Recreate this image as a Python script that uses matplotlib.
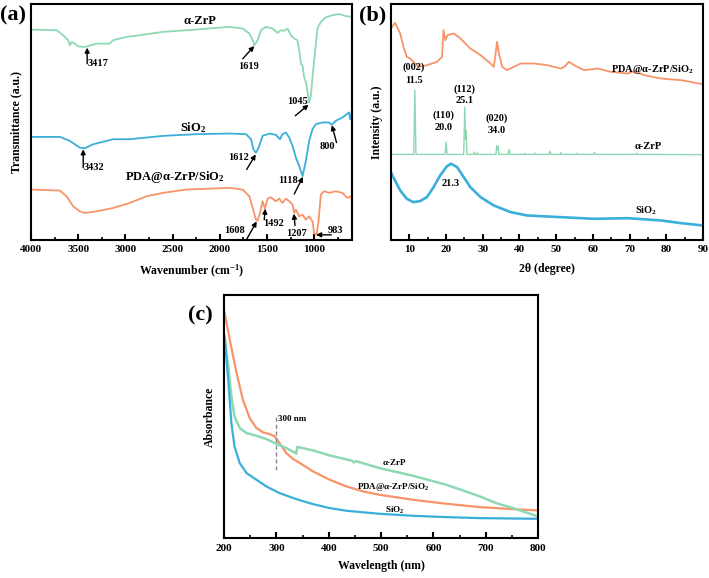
import matplotlib
matplotlib.use('Agg')
import matplotlib.pyplot as plt
from matplotlib.ticker import MultipleLocator

plt.rcParams['font.family'] = ['Liberation Serif', 'DejaVu Serif']
plt.rcParams['font.weight'] = 'bold'
plt.rcParams['mathtext.fontset'] = 'custom'
plt.rcParams['mathtext.rm'] = 'Liberation Serif:bold'
plt.rcParams['mathtext.it'] = 'Liberation Serif:italic:bold'
plt.rcParams['mathtext.bf'] = 'Liberation Serif:bold'

GREEN = '#8ed8b4'
BLUE = '#3aafd9'
ORANGE = '#f7946a'

# ---------------- (a) FTIR ----------------
ftir_zrp_x = [4000, 3729, 3659, 3606, 3588, 3570, 3535, 3500, 3430, 3306, 3166, 3131, 2990,
              2849, 2603, 2250, 1899, 1758, 1687, 1652, 1635, 1600, 1564, 1511, 1441,
              1388, 1353, 1318, 1283, 1247, 1212, 1177, 1159, 1141, 1124, 1107, 1089,
              1071, 1054, 1036, 1018, 1001, 983, 966, 930, 878, 807, 737, 666, 600]
ftir_zrp_y = [627, 625, 610, 595, 580, 590, 585, 577, 575, 585, 585, 595, 605,
              610, 620, 627, 635, 630, 615, 595, 580, 595, 625, 635, 630,
              617, 625, 623, 630, 610, 600, 595, 565, 525, 520, 485, 470,
              440, 410, 430, 485, 535, 585, 630, 650, 663, 670, 673, 667, 665]

ftir_sio2_x = [4000, 3694, 3588, 3483, 3430, 3342, 3131, 2955, 2603, 2250, 1899, 1722, 1669,
               1645, 1617, 1589, 1547, 1476, 1406, 1363, 1336, 1300, 1265, 1230, 1194,
               1159, 1124, 1089, 1054, 1018, 983, 913, 843, 814, 772, 701, 630, 620, 600]
ftir_sio2_y = [307, 307, 295, 275, 273, 285, 300, 300, 310, 315, 317, 315, 300,
               270, 260, 275, 310, 317, 313, 300, 315, 320, 305, 280, 245,
               220, 190, 235, 295, 330, 345, 350, 350, 343, 355, 365, 380, 360, 380]

ftir_pda_x = [4000, 3694, 3623, 3553, 3483, 3430, 3306, 3131, 2955, 2778, 2603, 2356, 1899,
              1758, 1687, 1652, 1617, 1600, 1575, 1547, 1522, 1494, 1459, 1406, 1371,
              1336, 1300, 1265, 1230, 1212, 1194, 1159, 1124, 1089, 1054, 1018, 1001,
              976, 955, 930, 895, 843, 772, 702, 649, 613, 600]
ftir_pda_y = [150, 147, 130, 100, 85, 80, 85, 95, 110, 130, 140, 150, 155,
              150, 130, 95, 60, 57, 80, 115, 93, 123, 127, 115, 123,
              110, 123, 115, 105, 80, 90, 70, 75, 60, 70, 55, 20,
              15, 55, 135, 145, 140, 145, 140, 125, 130, 115]

# ---------------- (b) XRD ----------------
xrd_pda_x = [5.0, 6.1, 7.5, 8.4, 9.3, 10.2, 11.1, 12.5, 14.8, 17.5, 18.9, 19.3, 19.8, 20.4,
             22.1, 23.9, 26.6, 29.4, 32.1, 33.0, 33.5, 33.9, 34.4, 35.3, 36.6, 40.3, 43.9,
             47.6, 51.2, 52.2, 53.5, 54.9, 57.6, 61.3, 64.9, 69.5, 71.3, 74.0, 78.6, 84.1, 90.0]
xrd_pda_y = [633, 650, 618, 578, 548, 543, 533, 518, 523, 533, 548, 628, 598, 613,
             618, 603, 573, 553, 528, 518, 558, 593, 558, 518, 508, 528, 528,
             523, 513, 518, 533, 523, 508, 513, 503, 498, 505, 493, 483, 478, 466]

xrd_zrp_x = [5.0, 11.2, 11.5, 11.8, 19.7, 20.0, 20.3, 24.8, 25.1, 25.3, 25.45, 25.7,
             27.5, 27.7, 27.9, 28.3, 28.5, 28.7, 33.6, 33.8, 33.95, 34.1, 34.4,
             36.9, 37.2, 37.5, 41.3, 41.5, 41.7, 44.1, 44.3, 44.5, 48.0, 48.3, 48.6,
             51.1, 51.3, 51.5, 55.4, 55.6, 55.8, 60.1, 60.4, 60.7, 71.8, 72.0, 72.2, 90.0]
xrd_zrp_y = [256, 256, 448, 256, 256, 293, 256, 256, 398, 300, 328, 256,
             256, 263, 256, 256, 260, 256, 256, 281, 270, 281, 256,
             256, 270, 256, 256, 259, 256, 256, 260, 256, 256, 265, 256,
             256, 261, 256, 256, 259, 256, 256, 261, 256, 256, 259, 256, 255]

xrd_sio2_x = [5.0, 5.6, 7.5, 9.3, 11.1, 12.9, 14.8, 16.6, 18.4, 20.2, 21.3, 23.0, 24.8,
              26.6, 29.4, 33.0, 37.6, 42.1, 51.2, 60.4, 69.5, 78.6, 84.1, 90.0]
xrd_sio2_y = [203, 188, 148, 123, 113, 116, 128, 158, 193, 220, 228, 218, 188,
              158, 128, 103, 83, 73, 68, 63, 65, 58, 50, 43]

# ---------------- (c) UV-vis ----------------
uv_pda_x = [201, 211, 224, 236, 249, 262, 275, 287, 297, 306, 319, 332, 345, 370, 402,
            434, 466, 497, 561, 625, 689, 752, 800]
uv_pda_y = [677, 595, 495, 415, 360, 330, 317, 312, 305, 285, 255, 237, 225, 200, 175,
            155, 140, 130, 115, 103, 93, 87, 83]

uv_zrp_x = [201, 208, 214, 220, 230, 243, 262, 281, 300, 319, 335, 338, 340, 345, 370,
            402, 445, 448, 452, 497, 561, 625, 689, 720, 752, 800]
uv_zrp_y = [605, 515, 425, 365, 330, 315, 307, 297, 283, 270, 257, 253, 273, 272, 263,
            248, 232, 227, 231, 210, 187, 160, 125, 105, 90, 65]

uv_sio2_x = [201, 208, 214, 220, 230, 243, 262, 281, 306, 338, 370, 402, 434, 497, 561,
             625, 689, 800]
uv_sio2_y = [605, 475, 345, 275, 225, 195, 175, 155, 135, 117, 102, 90, 82, 73, 67,
             63, 60, 58]

fig = plt.figure(figsize=(7.09, 5.78), dpi=100)
ax_a = fig.add_axes([0.0437, 0.585, 0.4528, 0.408])
ax_b = fig.add_axes([0.5515, 0.585, 0.440, 0.408])
ax_c = fig.add_axes([0.316, 0.069, 0.443, 0.421])

LW = 1.3
FS_TICK = 8
FS_LABEL = 8.5
FS_ANN = 7.5


def style(ax, major, minor):
    for sp in ax.spines.values():
        sp.set_linewidth(1.5)
    ax.set_yticks([])
    ax.xaxis.set_major_locator(MultipleLocator(major))
    ax.xaxis.set_minor_locator(MultipleLocator(minor))
    ax.tick_params(axis='x', which='major', direction='in', length=4, width=1.5,
                   labelsize=FS_TICK, pad=4)
    ax.tick_params(axis='x', which='minor', direction='in', length=2.5, width=1.2)
    for lbl in ax.get_xticklabels():
        lbl.set_fontweight('bold')


def arrow(ax, tail, head):
    ax.annotate('', xy=head, xytext=tail,
                arrowprops=dict(arrowstyle='-|>', color='black', lw=1.0,
                                mutation_scale=7, shrinkA=0, shrinkB=0))


# ----- panel (a)
ax_a.plot(ftir_zrp_x, ftir_zrp_y, color=GREEN, lw=LW)
ax_a.plot(ftir_sio2_x, ftir_sio2_y, color=BLUE, lw=LW)
ax_a.plot(ftir_pda_x, ftir_pda_y, color=ORANGE, lw=LW)
ax_a.set_xlim(4000, 600)
ax_a.set_ylim(0, 703)
style(ax_a, 500, 250)
ax_a.set_xlabel('Wavenumber (cm$^\\mathregular{-1}$)', fontsize=FS_LABEL, fontweight='bold',
                labelpad=6)
ax_a.set_ylabel('Transmittance (a.u.)', fontsize=FS_LABEL, fontweight='bold', labelpad=6)

ax_a.text(2215, 653, 'α-ZrP', fontsize=9, ha='center', va='center')
ax_a.text(2285, 335, 'SiO$_\\mathregular{2}$', fontsize=9, ha='center', va='center')
ax_a.text(2479, 188, 'PDA@α-ZrP/SiO$_\\mathregular{2}$', fontsize=9, ha='center', va='center')

ax_a.text(3395, 525, '3417', fontsize=FS_ANN, ha='left', va='center')
arrow(ax_a, (3405, 525), (3405, 573))
ax_a.text(1694, 518, '1619', fontsize=FS_ANN, ha='center', va='center')
arrow(ax_a, (1757, 540), (1635, 578))
ax_a.text(1176, 413, '1045', fontsize=FS_ANN, ha='center', va='center')
arrow(ax_a, (1201, 370), (1060, 403))
ax_a.text(3440, 215, '3432', fontsize=FS_ANN, ha='left', va='center')
arrow(ax_a, (3447, 215), (3447, 270))
ax_a.text(1799, 245, '1612', fontsize=FS_ANN, ha='center', va='center')
arrow(ax_a, (1715, 210), (1620, 255))
ax_a.text(859, 277, '800', fontsize=FS_ANN, ha='center', va='center')
arrow(ax_a, (764, 290), (813, 342))
ax_a.text(1282, 178, '1118', fontsize=FS_ANN, ha='center', va='center')
arrow(ax_a, (1211, 137), (1120, 188))
ax_a.text(1845, 27, '1608', fontsize=FS_ANN, ha='center', va='center')
arrow(ax_a, (1715, 2), (1610, 55))
ax_a.text(1430, 48, '1492', fontsize=FS_ANN, ha='center', va='center')
arrow(ax_a, (1530, 60), (1518, 93))
ax_a.text(1183, 20, '1207', fontsize=FS_ANN, ha='center', va='center')
arrow(ax_a, (1204, 43), (1215, 78))
ax_a.text(778, 27, '983', fontsize=FS_ANN, ha='center', va='center')
arrow(ax_a, (820, 15), (980, 15))

# ----- panel (b)
ax_b.plot(xrd_pda_x, xrd_pda_y, color=ORANGE, lw=LW)
ax_b.plot(xrd_zrp_x, xrd_zrp_y, color=GREEN, lw=1.0)
ax_b.plot(xrd_sio2_x, xrd_sio2_y, color=BLUE, lw=LW + 0.6)
ax_b.set_xlim(5, 90)
ax_b.set_ylim(0, 706)
style(ax_b, 10, 5)
ax_b.set_xlabel('2θ (degree)', fontsize=FS_LABEL, fontweight='bold', labelpad=6)
ax_b.set_ylabel('Intensity (a.u.)', fontsize=FS_LABEL, fontweight='bold', labelpad=6)

for x, y, s in [(11.3, 518, '(002)'), (11.3, 478, '11.5'),
                (25.1, 450, '(112)'), (25.1, 416, '25.1'),
                (19.3, 373, '(110)'), (19.3, 336, '20.0'),
                (33.9, 363, '(020)'), (33.9, 328, '34.0'),
                (21.3, 168, '21.3')]:
    ax_b.text(x, y, s, fontsize=FS_ANN, ha='center', va='center')
ax_b.text(75.1, 281, 'α-ZrP', fontsize=FS_ANN, ha='center', va='center')
ax_b.text(76.3, 510, 'PDA@α-ZrP/SiO$_\\mathregular{2}$', fontsize=FS_ANN, ha='center', va='center')
ax_b.text(74.5, 88, 'SiO$_\\mathregular{2}$', fontsize=FS_ANN, ha='center', va='center')

# ----- panel (c)
ax_c.plot(uv_pda_x, uv_pda_y, color=ORANGE, lw=1.6)
ax_c.plot(uv_zrp_x, uv_zrp_y, color=GREEN, lw=1.8)
ax_c.plot(uv_sio2_x, uv_sio2_y, color=BLUE, lw=1.6)
ax_c.set_xlim(200, 800)
ax_c.set_ylim(0, 730)
style(ax_c, 100, 50)
ax_c.set_xlabel('Wavelength (nm)', fontsize=FS_LABEL, fontweight='bold', labelpad=5)
ax_c.set_ylabel('Absorbance', fontsize=FS_LABEL, fontweight='bold', labelpad=6)
ax_c.plot([300, 300], [205, 370], color='#888888', lw=1.0, ls=(0, (3, 2)))
ax_c.text(303, 357, '300 nm', fontsize=6.5, ha='left', va='center')
ax_c.text(526, 225, 'α-ZrP', fontsize=6.5, ha='center', va='center')
ax_c.text(523, 152, 'PDA@α-ZrP/SiO$_\\mathregular{2}$', fontsize=6.5, ha='center', va='center')
ax_c.text(526, 83, 'SiO$_\\mathregular{2}$', fontsize=6.5, ha='center', va='center')

# panel letters
fig.text(0.018, 0.974, '(a)', fontsize=16, ha='center', va='center')
fig.text(0.525, 0.974, '(b)', fontsize=16, ha='center', va='center')
fig.text(0.282, 0.455, '(c)', fontsize=16, ha='center', va='center')

fig.savefig('out.png', dpi=100)
